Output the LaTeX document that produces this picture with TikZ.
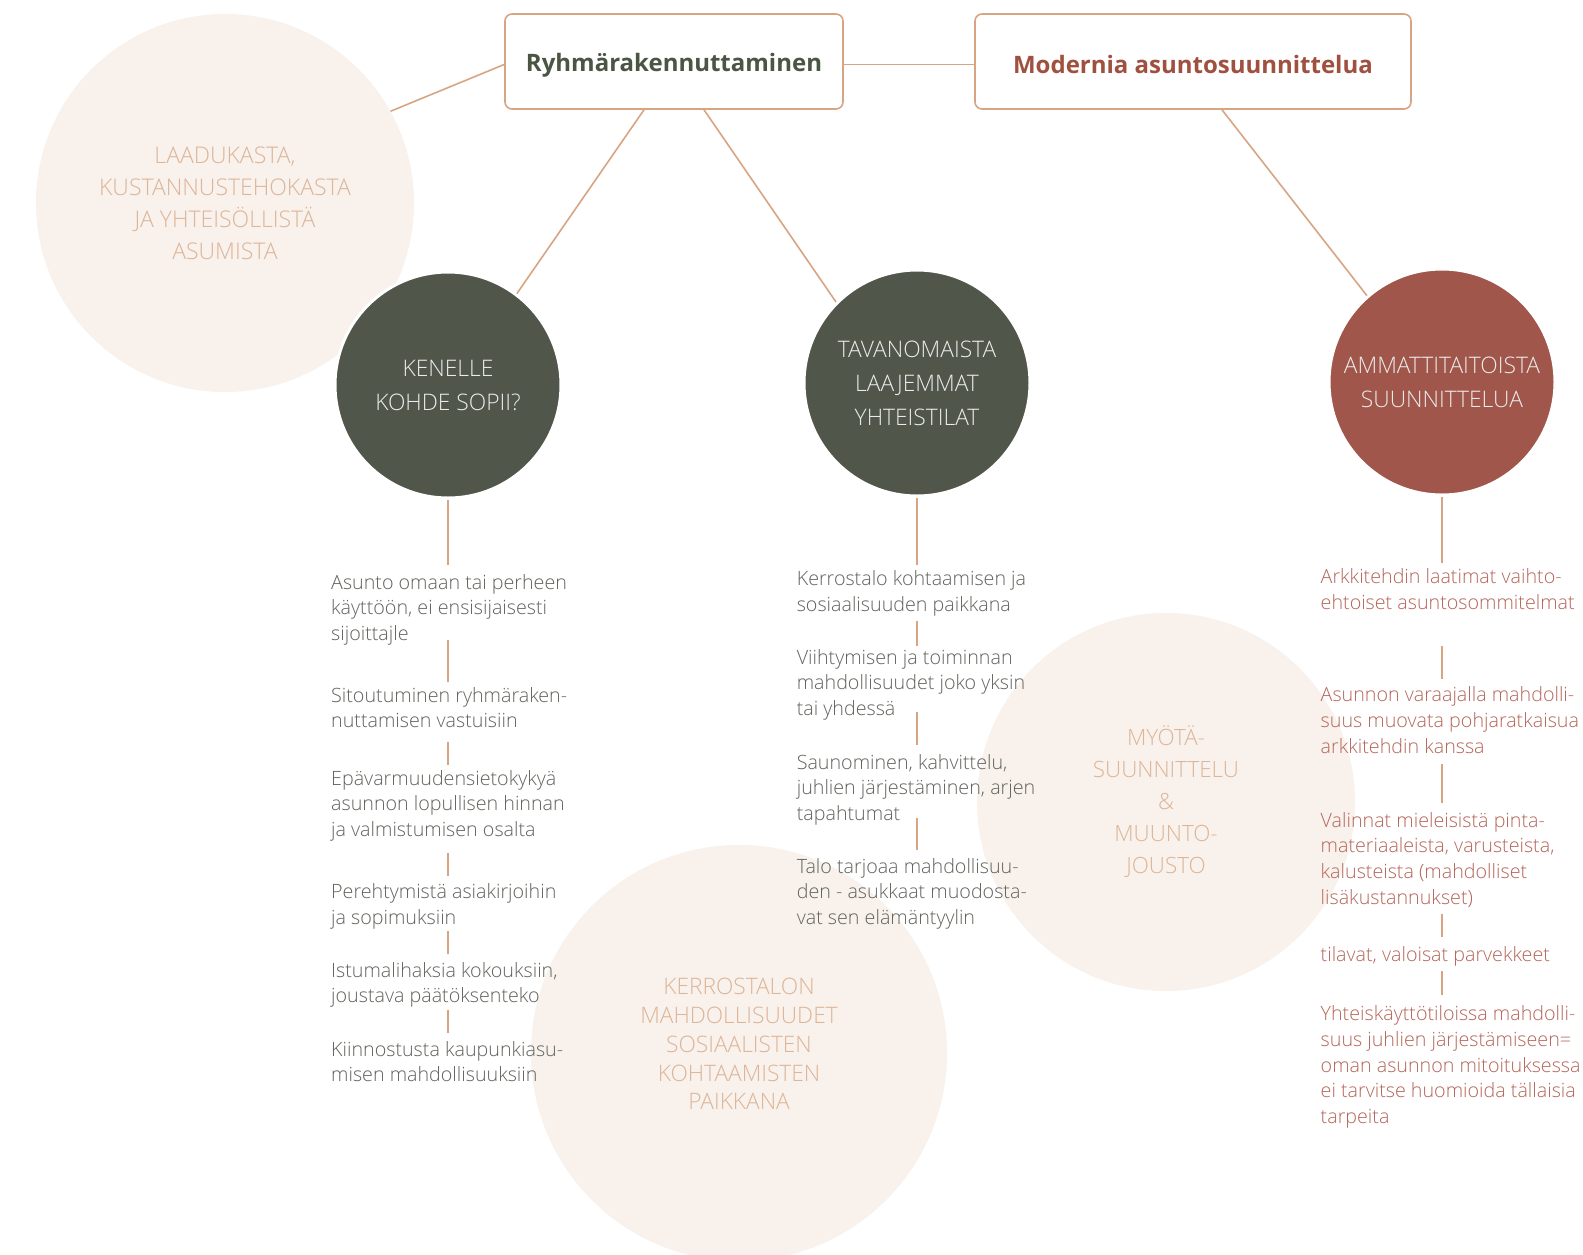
\documentclass[tikz,border=0pt]{standalone}
\usepackage{fontspec}
\setmainfont{Open Sans}
\newfontfamily\lightf{Open Sans Light}
\definecolor{darkg}{HTML}{50574A}
\definecolor{redc}{HTML}{A0564A}
\definecolor{pale}{HTML}{F8F1EC}
\definecolor{paletxt}{HTML}{DDB597}
\definecolor{conn}{HTML}{D8A584}
\definecolor{titleg}{HTML}{4B5543}
\definecolor{titler}{HTML}{A0503F}
\definecolor{bodyg}{HTML}{60645D}
\definecolor{bodyr}{HTML}{B5665A}
\newcommand\itemlines[5]{%
  \foreach \l [count=\i] in {#5} {
    \node[itemtxt,text=#4] (#1-\i) at (#2,{#3+25.7*(\i-1)}) {\l};
  }%
}
\begin{document}
\begin{tikzpicture}[x=1pt,y=-1pt,
  conline/.style={draw=conn,line width=1.6pt},
  titlebox/.style={draw=conn,line width=1.6pt,rounded corners=7pt,fill=white,minimum height=95pt,inner sep=0pt},
  titletxt/.style={inner sep=0pt,font=\fontsize{24}{28}\selectfont\bfseries},
  palecirc/.style={circle,fill=pale,inner sep=0pt,align=center,text=paletxt},
  bigcirc/.style={circle,draw=white,line width=3pt,minimum size=226pt,inner sep=0pt,align=center,text=white!92!black,font=\lightf\fontsize{22.8}{34}\selectfont},
  itemtxt/.style={anchor=base west,inner sep=0pt,font=\lightf\fontsize{19.7}{25.7}\selectfont}]
\useasboundingbox (0,0) rectangle (1583,1254);
\fill[white] (0,0) rectangle (1583,1254);
% pale background circles
\node[palecirc,minimum size=378pt,font=\lightf\fontsize{23}{32}\selectfont] (p1) at (225,203) {LAADUKASTA,\\KUSTANNUSTEHOKASTA\\JA YHTEISÖLLISTÄ\\ASUMISTA};
\node[palecirc,minimum size=416pt] (p2) at (739,1053) {};
\node[palecirc,font=\lightf\fontsize{22.7}{28.8}\selectfont] (p2t) at (739,1044) {KERROSTALON\\MAHDOLLISUUDET\\SOSIAALISTEN\\KOHTAAMISTEN\\PAIKKANA};
\node[palecirc,minimum size=378pt,font=\lightf\fontsize{22.4}{32}\selectfont] (p3) at (1166,802) {MYÖTÄ-\\SUUNNITTELU\\\&\\MUUNTO-\\JOUSTO};
% title boxes
\node[titlebox,minimum width=338pt] (b1) at (674,61.5) {};
\node[titlebox,minimum width=436pt] (b2) at (1193,61.5) {};
\node[titletxt,text=titleg] (b1t) at ([yshift=-4pt]b1.center) {Ryhmärakennuttaminen};
\node[titletxt,text=titler] (b2t) at ([yshift=-3pt]b2.center) {Modernia asuntosuunnittelua};
% main circles
\node[bigcirc,fill=darkg] (c1) at (448,385) {KENELLE\\KOHDE SOPII?};
\node[bigcirc,fill=darkg] (c2) at (917,383) {TAVANOMAISTA\\LAAJEMMAT\\YHTEISTILAT};
\node[bigcirc,fill=redc] (c3) at (1442,382) {AMMATTITAITOISTA\\SUUNNITTELUA};
% connectors between top elements
\draw[conline] ([yshift=-3pt]b1.east) -- ([yshift=-3pt]b2.west);
\draw[conline] ([yshift=-3pt]b1.west) -- (p1.29);
\draw[conline] ([xshift=-30pt]b1.south) -- (c1.53);
\draw[conline] ([xshift=30pt]b1.south) -- (c2.135);
\draw[conline] ([xshift=29pt]b2.south) -- (c3.131);
% column 1
\itemlines{a}{331}{589}{bodyg}{Asunto omaan tai perheen,{käyttöön, ei ensisijaisesti},sijoittajle}
\itemlines{b}{331}{702}{bodyg}{Sitoutuminen ryhmäraken-,nuttamisen vastuisiin}
\itemlines{c}{331}{785}{bodyg}{Epävarmuudensietokykyä,asunnon lopullisen hinnan,ja valmistumisen osalta}
\itemlines{d}{331}{898.5}{bodyg}{Perehtymistä asiakirjoihin,ja sopimuksiin}
\itemlines{e}{331}{977}{bodyg}{{Istumalihaksia kokouksiin,},joustava päätöksenteko}
\itemlines{f}{331}{1056}{bodyg}{Kiinnostusta kaupunkiasu-,misen mahdollisuuksiin}
\coordinate (k1) at (448,565);
\draw[conline] (c1.south) -- (k1);
\foreach \ya/\yb [count=\j] in {640/681.5,742/765,853/876,931/954,1009.6/1033}{
  \coordinate (k1t\j) at (448,\ya); \coordinate (k1b\j) at (448,\yb);
  \draw[conline] (k1t\j) -- (k1b\j);
}
% column 2
\itemlines{g}{796.6}{585.5}{bodyg}{Kerrostalo kohtaamisen ja,sosiaalisuuden paikkana}
\itemlines{h}{796.6}{664}{bodyg}{Viihtymisen ja toiminnan,mahdollisuudet joko yksin,tai yhdessä}
\itemlines{i}{796.6}{769}{bodyg}{{Saunominen, kahvittelu,},{juhlien järjestäminen, arjen},tapahtumat}
\itemlines{j}{796.6}{873}{bodyg}{Talo tarjoaa mahdollisuu-,den - asukkaat muodosta-,vat sen elämäntyylin}
\coordinate (k2) at (917,565);
\draw[conline] (c2.south) -- (k2);
\foreach \ya/\yb [count=\j] in {621/646,712/745,818/850}{
  \coordinate (k2t\j) at (917,\ya); \coordinate (k2b\j) at (917,\yb);
  \draw[conline] (k2t\j) -- (k2b\j);
}
% column 3
\itemlines{m}{1320.5}{583.5}{bodyr}{Arkkitehdin laatimat vaihto-,ehtoiset asuntosommitelmat}
\itemlines{n}{1320.5}{701.6}{bodyr}{Asunnon varaajalla mahdolli-,suus muovata pohjaratkaisua,arkkitehdin kanssa}
\itemlines{o}{1320.5}{827}{bodyr}{Valinnat mieleisistä pinta-,{materiaaleista, varusteista,},kalusteista (mahdolliset,lisäkustannukset)}
\itemlines{q}{1320.5}{961}{bodyr}{{tilavat, valoisat parvekkeet}}
\itemlines{r}{1320.5}{1020.6}{bodyr}{Yhteiskäyttötiloissa mahdolli-,suus juhlien järjestämiseen=,oman asunnon mitoituksessa,ei tarvitse huomioida tällaisia,tarpeita}
\coordinate (k3) at (1442,563);
\draw[conline] (c3.south) -- (k3);
\foreach \ya/\yb [count=\j] in {646/678.5,764/802.6,913.7/937,971/994.5}{
  \coordinate (k3t\j) at (1442,\ya); \coordinate (k3b\j) at (1442,\yb);
  \draw[conline] (k3t\j) -- (k3b\j);
}
\end{tikzpicture}
\end{document}
